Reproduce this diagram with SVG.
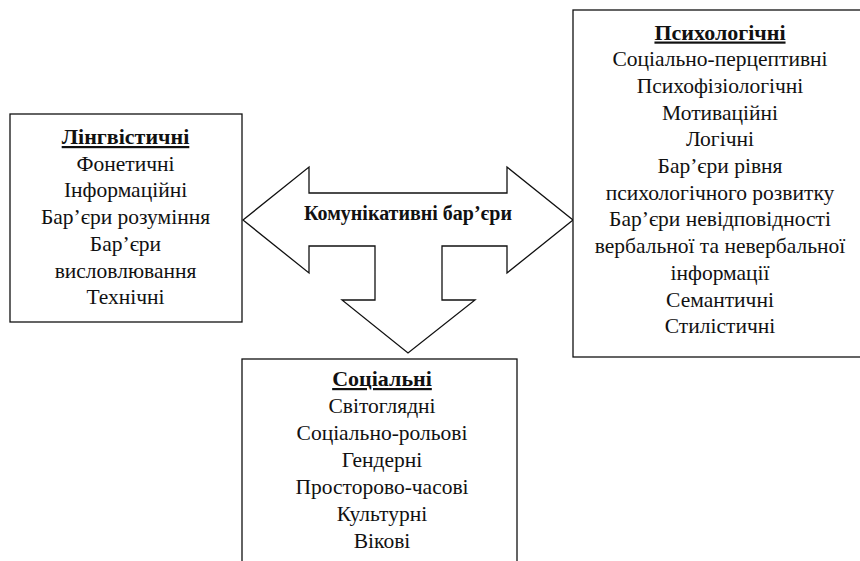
<svg xmlns="http://www.w3.org/2000/svg" width="860" height="561" viewBox="0 0 860 561">
<style>
.box{fill:#fff;stroke:#111;stroke-width:1.3}
.arrow{fill:#fff;stroke:#111;stroke-width:1.3;stroke-linejoin:miter}
text{font-family:"Liberation Serif","Times New Roman",serif;font-size:21.5px;fill:#111;text-anchor:middle}
.title{font-weight:bold;text-decoration:underline;font-size:22px}
.center{font-weight:bold;font-size:20px}
</style>
<rect width="860" height="561" fill="#fff"/>
<g id="connectors">
<polygon class="arrow" points="243,220 309,167 309,193 507,193 507,167 573,220 507,273 507,246 442,246 442,300 475,300 408,353 342,300 375,300 375,246 309,246 309,273"/>
<text class="center" x="408" y="220">Комунікативні бар’єри</text>
</g>
<g id="lingv">
<rect class="box" x="10" y="114" width="232" height="208"/>
<text x="125.5" y="144" class="title">Лінгвістичні</text>
<text x="125.5" y="170.7">Фонетичні</text>
<text x="125.5" y="197.4">Інформаційні</text>
<text x="125.5" y="224.1">Бар’єри розуміння</text>
<text x="125.5" y="250.8">Бар’єри</text>
<text x="125.5" y="277.5">висловлювання</text>
<text x="125.5" y="304.2">Технічні</text>
</g>
<g id="psych">
<rect class="box" x="573" y="10" width="297" height="347"/>
<text x="720" y="39.5" class="title">Психологічні</text>
<text x="720" y="66.2">Соціально-перцептивні</text>
<text x="720" y="92.9">Психофізіологічні</text>
<text x="720" y="119.6">Мотиваційні</text>
<text x="720" y="146.3">Логічні</text>
<text x="720" y="173">Бар’єри рівня</text>
<text x="720" y="199.7">психологічного розвитку</text>
<text x="720" y="226.4">Бар’єри невідповідності</text>
<text x="720" y="253.1">вербальної та невербальної</text>
<text x="720" y="279.8">інформації</text>
<text x="720" y="306.5">Семантичні</text>
<text x="720" y="333.2">Стилістичні</text>
</g>
<g id="social">
<rect class="box" x="242" y="359" width="275" height="210"/>
<text x="382" y="386" class="title">Соціальні</text>
<text x="382" y="413">Світоглядні</text>
<text x="382" y="440">Соціально-рольові</text>
<text x="382" y="467">Гендерні</text>
<text x="382" y="494">Просторово-часові</text>
<text x="382" y="521">Культурні</text>
<text x="382" y="548">Вікові</text>
</g>
</svg>
